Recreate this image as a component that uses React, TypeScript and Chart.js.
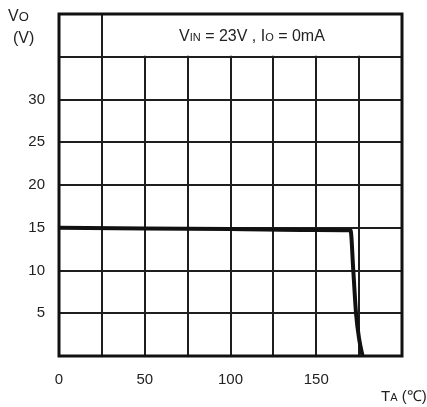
import React, { useEffect, useRef } from "react";
import { Chart, registerables } from "chart.js";

Chart.register(...registerables);

const tempC = [0, 50, 100, 150, 170, 171.6, 173.2, 175, 177];
const voltV = [15.0, 14.9, 14.85, 14.75, 14.7, 10, 5, 2, 0];
const xTickLabels = [0, 50, 100, 150];
const yTickLabels = [5, 10, 15, 20, 25, 30];

const FONT = "'Liberation Sans', Arial, sans-serif";

const overlay = {
  id: "overlay",
  beforeDatasetsDraw(chart: any) {
    const { ctx, chartArea, scales } = chart;
    const x25 = scales.x.getPixelForValue(25);
    const y35 = scales.y.getPixelForValue(35);
    ctx.save();
    ctx.fillStyle = "#ffffff";
    ctx.fillRect(x25 + 1.5, chartArea.top + 1, chartArea.right - x25 - 2.5, y35 - chartArea.top - 2);
    // title
    const cy = (chartArea.top + y35) / 2;
    const parts: [string, number][] = [
      ["V", 16], ["IN", 11], [" = 23V , I", 16], ["O", 11], [" = 0mA", 16],
    ];
    let total = 0;
    for (const [t, s] of parts) {
      ctx.font = `${s}px ${FONT}`;
      total += ctx.measureText(t).width;
    }
    let x = (x25 + chartArea.right) / 2 - total / 2;
    ctx.fillStyle = "#222";
    ctx.textBaseline = "alphabetic";
    ctx.textAlign = "left";
    for (const [t, s] of parts) {
      ctx.font = `${s}px ${FONT}`;
      ctx.fillText(t, x, cy + 6);
      x += ctx.measureText(t).width;
    }
    ctx.restore();
  },
  afterDatasetsDraw(chart: any) {
    const { ctx, chartArea } = chart;
    ctx.save();
    ctx.strokeStyle = "#111";
    ctx.lineWidth = 3;
    ctx.strokeRect(chartArea.left, chartArea.top, chartArea.right - chartArea.left, chartArea.bottom - chartArea.top);
    // axis titles
    ctx.fillStyle = "#222";
    ctx.textAlign = "left";
    ctx.textBaseline = "alphabetic";
    ctx.font = `16px ${FONT}`;
    ctx.fillText("V", 8, 21);
    const vw = ctx.measureText("V").width;
    ctx.font = `13px ${FONT}`;
    ctx.fillText("O", 8 + vw, 21);
    ctx.font = `16px ${FONT}`;
    ctx.fillText("(V)", 13, 43);
    ctx.font = `15px ${FONT}`;
    ctx.fillText("T", 381, 401);
    const tw = ctx.measureText("T").width;
    ctx.font = `11px ${FONT}`;
    ctx.fillText("A", 381 + tw, 401);
    const aw = ctx.measureText("A").width;
    ctx.font = `15px ${FONT}`;
    ctx.fillText(" (℃)", 381 + tw + aw, 401);
    ctx.restore();
  },
};

export default function App() {
  const ref = useRef<HTMLCanvasElement>(null);
  useEffect(() => {
    if (!ref.current) return;
    const chart = new Chart(ref.current, {
      type: "line",
      data: {
        datasets: [
          {
            data: tempC.map((t, i) => ({ x: t, y: voltV[i] })),
            borderColor: "#111",
            borderWidth: 4,
            pointRadius: 0,
            cubicInterpolationMode: "monotone",
            fill: false,
          },
        ],
      },
      options: {
        animation: false,
        responsive: false,
        layout: { padding: { top: 14, right: 25, left: 0, bottom: 0 } },
        plugins: { legend: { display: false }, tooltip: { enabled: false } },
        scales: {
          x: {
            type: "linear",
            min: 0,
            max: 200,
            afterFit: (s: any) => { s.height = 51; s.paddingLeft = 0; s.paddingRight = 0; },
            border: { display: false },
            grid: { color: "#1e1e1e", lineWidth: 2, drawTicks: false },
            ticks: {
              stepSize: 25,
              padding: 15,
              color: "#222",
              font: { family: FONT, size: 15 },
              maxRotation: 0,
              autoSkip: false,
              callback: (v: any) => (xTickLabels.includes(Number(v)) ? String(v) : ""),
            },
          },
          y: {
            type: "linear",
            min: 0,
            max: 40,
            afterFit: (s: any) => { s.width = 59; s.paddingTop = 0; s.paddingBottom = 0; },
            border: { display: false },
            grid: { color: "#1e1e1e", lineWidth: 2, drawTicks: false },
            ticks: {
              stepSize: 5,
              padding: 14,
              color: "#222",
              font: { family: FONT, size: 15 },
              autoSkip: false,
              callback: (v: any) => (yTickLabels.includes(Number(v)) ? String(v) : ""),
            },
          },
        },
      },
      plugins: [overlay],
    } as any);
    return () => chart.destroy();
  }, []);
  return (
    <div style={{ position: "fixed", left: 0, top: 0, width: 427, height: 407, background: "#fff" }}>
      <canvas ref={ref} width={427} height={407} style={{ width: 427, height: 407 }} />
    </div>
  );
}
